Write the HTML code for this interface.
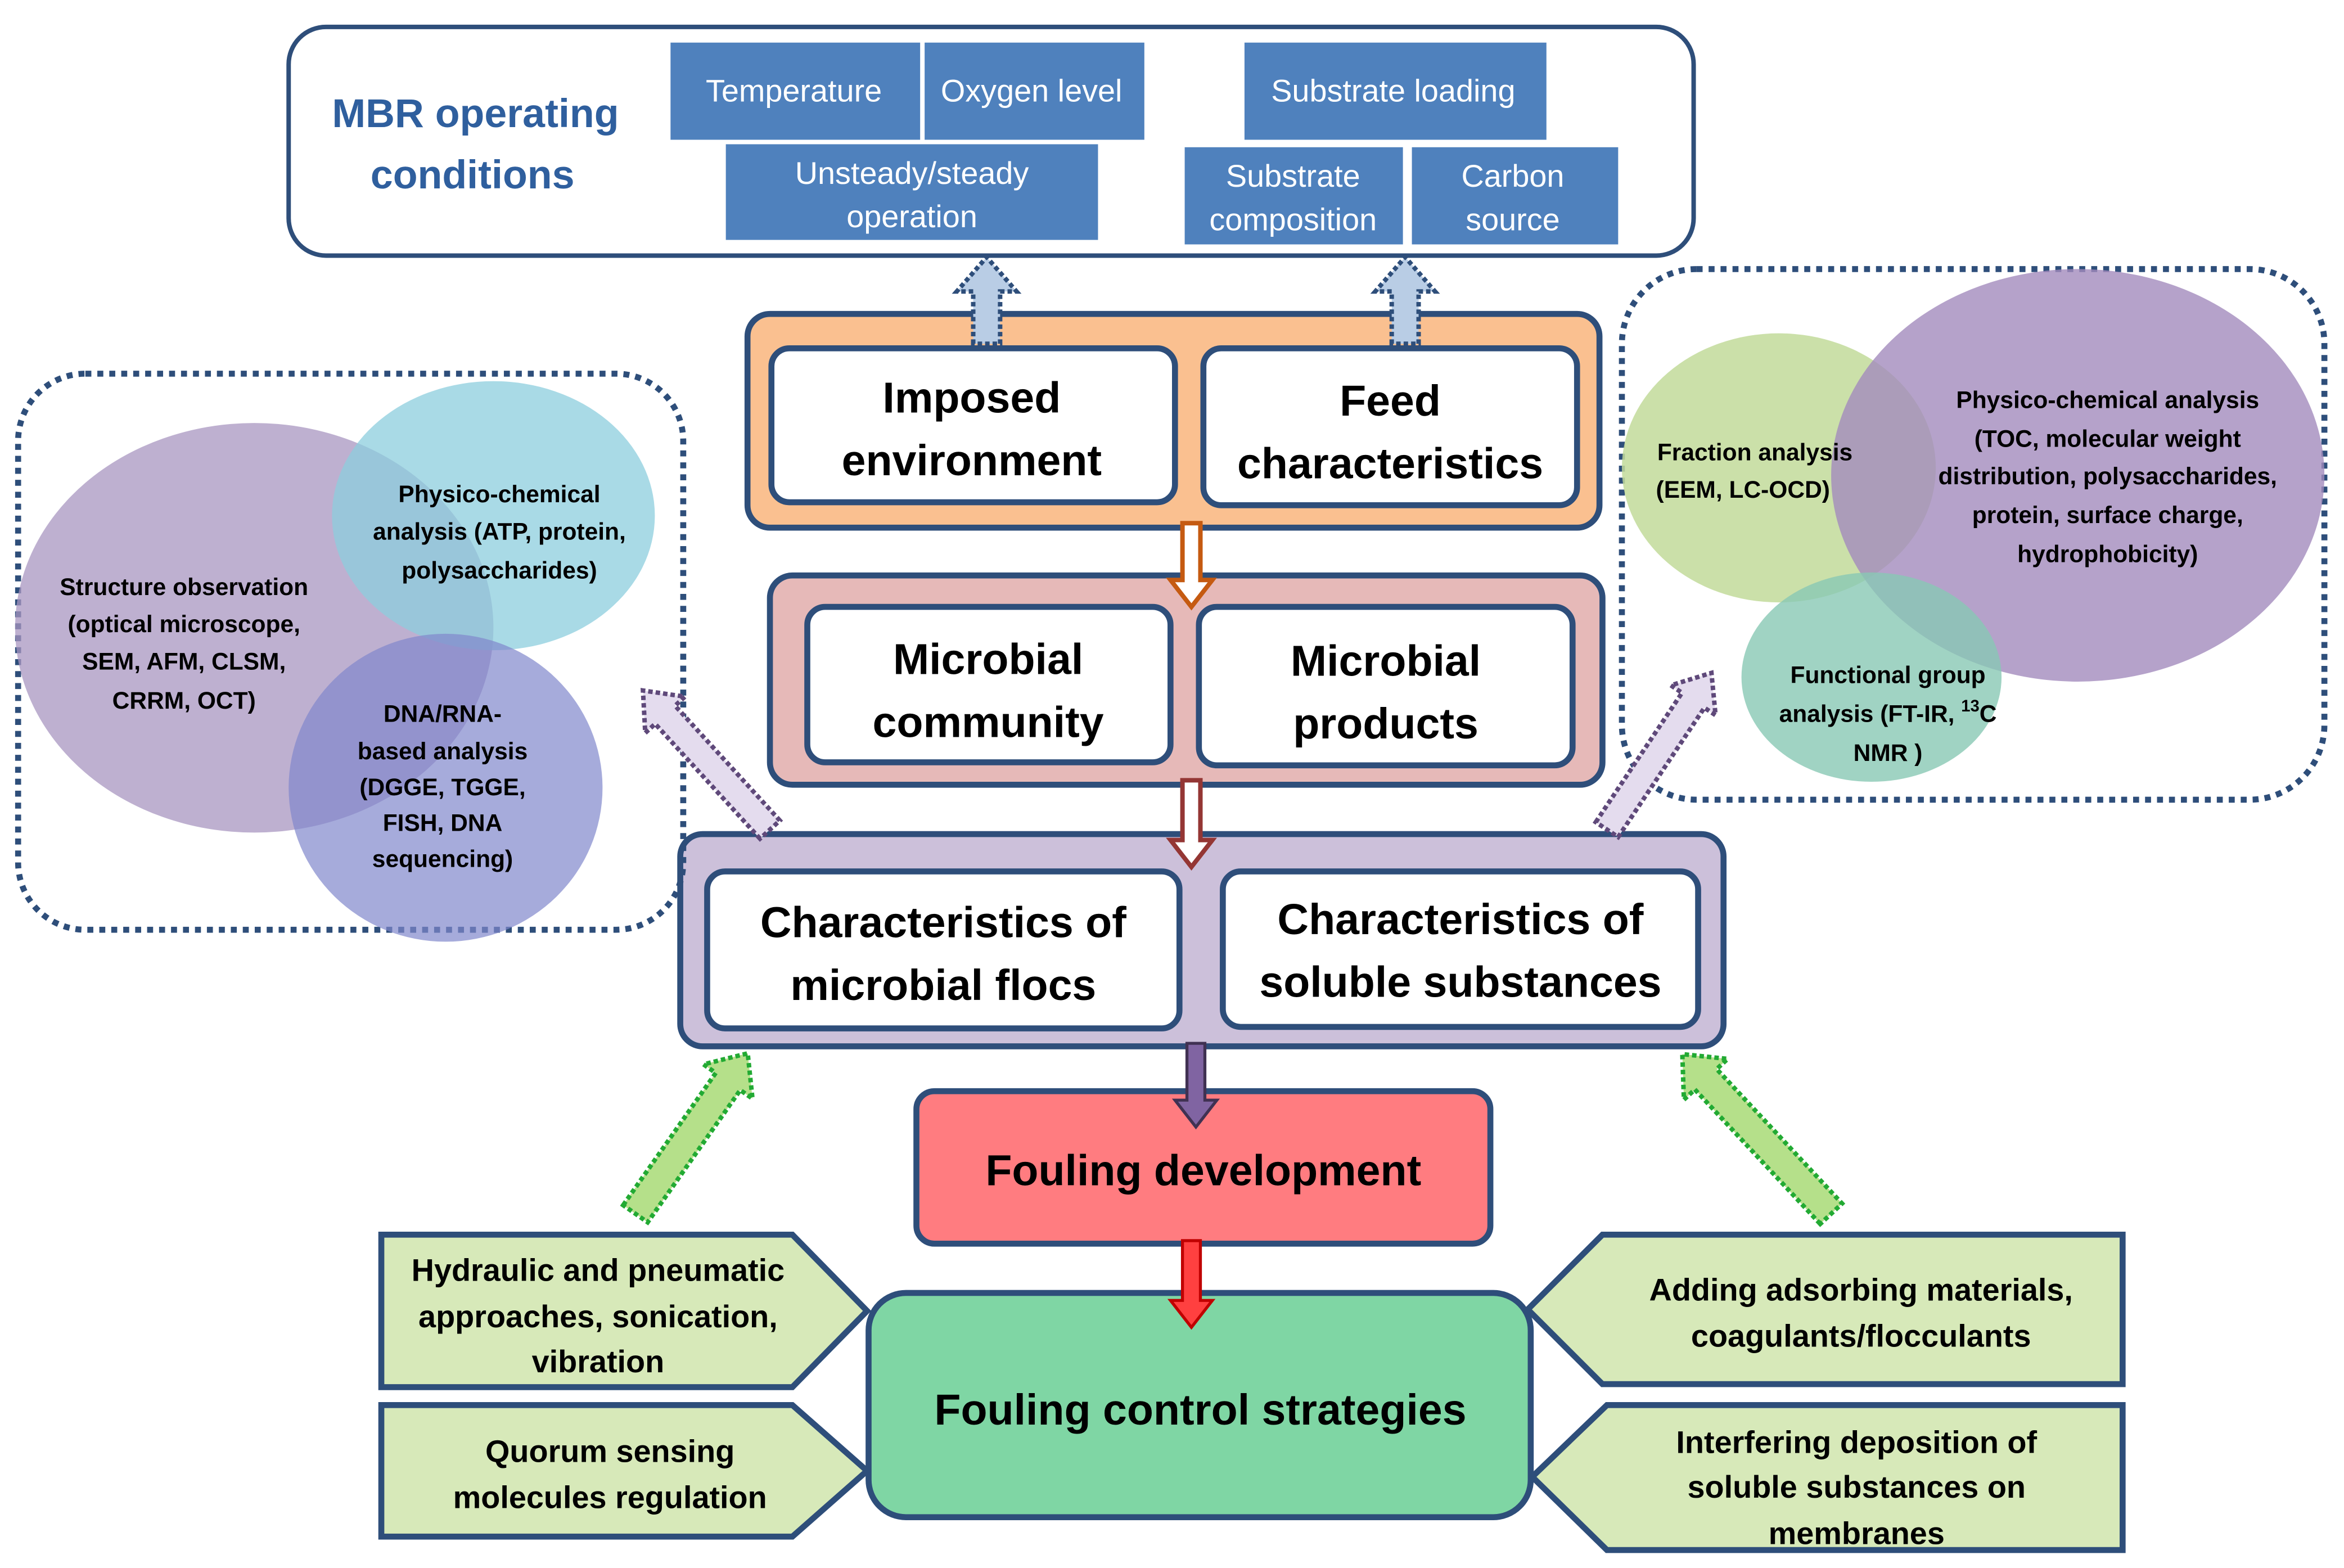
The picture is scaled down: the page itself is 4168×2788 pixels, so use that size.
<!DOCTYPE html>
<html><head><meta charset="utf-8"><style>
html,body{margin:0;padding:0;background:#fff}
svg{display:block}
text{font-family:"Liberation Sans",sans-serif;font-weight:bold}
</style></head><body>
<svg width="4168" height="2788" viewBox="0 0 1568 1049" xmlns="http://www.w3.org/2000/svg">
<rect width="1568" height="1049" fill="#fff"/>
<!-- Top box -->
<rect x="193" y="18" width="940" height="153" rx="25" fill="#fff" stroke="#2e4e7a" stroke-width="3"/>
<text x="318" y="85" font-size="27" fill="#2f5f9e" text-anchor="middle">MBR operating</text>
<text x="316" y="126" font-size="27" fill="#2f5f9e" text-anchor="middle">conditions</text>
<g fill="#4f81bd" stroke="#fff" stroke-width="1">
<rect x="448" y="28" width="168" height="66"/>
<rect x="618" y="28" width="148" height="66"/>
<rect x="485" y="96" width="250" height="65"/>
<rect x="832" y="28" width="203" height="66"/>
<rect x="792" y="98" width="147" height="66"/>
<rect x="944" y="98" width="139" height="66"/>
</g>
<g fill="#fff" font-size="21" text-anchor="middle">
<text x="531" y="68" style="font-weight:normal">Temperature</text>
<text x="690" y="68" style="font-weight:normal">Oxygen level</text>
<text x="610" y="123" style="font-weight:normal">Unsteady/steady</text>
<text x="610" y="152" style="font-weight:normal">operation</text>
<text x="932" y="68" style="font-weight:normal">Substrate loading</text>
<text x="865" y="125" style="font-weight:normal">Substrate</text>
<text x="865" y="154" style="font-weight:normal">composition</text>
<text x="1012" y="125" style="font-weight:normal">Carbon</text>
<text x="1012" y="154" style="font-weight:normal">source</text>
</g>
<!-- Orange box -->
<rect x="500" y="210" width="570" height="143" rx="15" fill="#fac090" stroke="#2e4e7a" stroke-width="4"/>
<rect x="516" y="233" width="270" height="103" rx="12" fill="#fff" stroke="#2e4e7a" stroke-width="4"/>
<rect x="805" y="233" width="250" height="105" rx="12" fill="#fff" stroke="#2e4e7a" stroke-width="4"/>
<g font-size="29" text-anchor="middle" fill="#000">
<text x="650" y="276">Imposed</text><text x="650" y="318">environment</text>
<text x="930" y="278">Feed</text><text x="930" y="320">characteristics</text>
</g>
<!-- Pink box -->
<rect x="515" y="385" width="557" height="140" rx="15" fill="#e6b9b8" stroke="#2e4e7a" stroke-width="4"/>
<rect x="540" y="406" width="243" height="104" rx="12" fill="#fff" stroke="#2e4e7a" stroke-width="4"/>
<rect x="802" y="406" width="250" height="106" rx="12" fill="#fff" stroke="#2e4e7a" stroke-width="4"/>
<g font-size="29" text-anchor="middle" fill="#000">
<text x="661" y="451">Microbial</text><text x="661" y="493">community</text>
<text x="927" y="452">Microbial</text><text x="927" y="494">products</text>
</g>
<!-- Lavender box -->
<rect x="455" y="558" width="698" height="142" rx="15" fill="#ccc0da" stroke="#2e4e7a" stroke-width="4"/>
<rect x="473" y="583" width="316" height="105" rx="12" fill="#fff" stroke="#2e4e7a" stroke-width="4"/>
<rect x="818" y="583" width="318" height="104" rx="12" fill="#fff" stroke="#2e4e7a" stroke-width="4"/>
<g font-size="29" text-anchor="middle" fill="#000">
<text x="631" y="627">Characteristics of</text><text x="631" y="669">microbial flocs</text>
<text x="977" y="625">Characteristics of</text><text x="977" y="667">soluble substances</text>
</g>
<!-- Fouling development -->
<rect x="613" y="730" width="384" height="102" rx="12" fill="#ff7c80" stroke="#2e4e7a" stroke-width="4"/>
<text x="805" y="793" font-size="29" text-anchor="middle">Fouling development</text>
<!-- Fouling control -->
<rect x="581" y="865" width="443" height="150" rx="25" fill="#7fd6a4" stroke="#2e4e7a" stroke-width="4"/>
<text x="803" y="953" font-size="29" text-anchor="middle">Fouling control strategies</text>
<!-- green pentagons -->
<g fill="#d7e9b9" stroke="#2e4e7a" stroke-width="4">
<polygon points="255,826 530,826 580,877 530,928 255,928"/>
<polygon points="255,940 530,940 580,984 530,1028 255,1028"/>
<polygon points="1420,826 1072,826 1022,876 1072,926 1420,926"/>
<polygon points="1420,940 1075,940 1025,988 1075,1037 1420,1037"/>
</g>
<g font-size="21" text-anchor="middle" fill="#000">
<text x="400" y="857">Hydraulic and pneumatic</text>
<text x="400" y="888">approaches, sonication,</text>
<text x="400" y="918">vibration</text>
<text x="408" y="978">Quorum sensing</text>
<text x="408" y="1009">molecules regulation</text>
<text x="1245" y="870">Adding adsorbing materials,</text>
<text x="1245" y="901">coagulants/flocculants</text>
<text x="1242" y="972">Interfering  deposition of</text>
<text x="1242" y="1002">soluble substances on</text>
<text x="1242" y="1033">membranes</text>
</g>
<!-- green dotted arrows -->
<g fill="#b5e08a" stroke="#22aa33" stroke-width="3" stroke-dasharray="3,2">
<g transform="translate(425,812) rotate(35)"><polygon points="-10,0 -10,-108 -20,-108 0,-131 20,-108 10,-108 10,0"/></g>
<g transform="translate(1225,812) rotate(-43)"><polygon points="-10,0 -10,-123 -20,-123 0,-146 20,-123 10,-123 10,0"/></g>
</g>
<!-- Left group -->
<rect x="12" y="250" width="445" height="372" rx="45" fill="none" stroke="#2e4e7a" stroke-width="4" stroke-dasharray="4,4"/>
<ellipse cx="170" cy="420" rx="160" ry="137" fill="#a896c0" fill-opacity="0.75"/>
<ellipse cx="330" cy="345" rx="108" ry="90" fill="#8ccede" fill-opacity="0.75"/>
<ellipse cx="298" cy="527" rx="105" ry="103" fill="#8088cc" fill-opacity="0.7"/>
<g font-size="16" text-anchor="middle" fill="#000">
<text x="334" y="336">Physico-chemical</text>
<text x="334" y="361">analysis  (ATP, protein,</text>
<text x="334" y="387">polysaccharides)</text>
<text x="123" y="398">Structure observation</text>
<text x="123" y="423">(optical microscope,</text>
<text x="123" y="448">SEM,  AFM,  CLSM,</text>
<text x="123" y="474">CRRM,  OCT)</text>
<text x="296" y="483">DNA/RNA-</text>
<text x="296" y="508">based analysis</text>
<text x="296" y="532">(DGGE,  TGGE,</text>
<text x="296" y="556">FISH, DNA</text>
<text x="296" y="580">sequencing)</text>
</g>
<!-- Right group -->
<rect x="1085" y="180" width="470" height="355" rx="50" fill="none" stroke="#2e4e7a" stroke-width="4" stroke-dasharray="4,4"/>
<ellipse cx="1190" cy="313" rx="105" ry="90" fill="#c2da9a" fill-opacity="0.85"/>
<ellipse cx="1390" cy="318" rx="165" ry="138" fill="#a38bbd" fill-opacity="0.8"/>
<ellipse cx="1252" cy="453" rx="87" ry="70" fill="#88c8b4" fill-opacity="0.8"/>
<g font-size="16" text-anchor="middle" fill="#000">
<text x="1174" y="308">Fraction analysis</text>
<text x="1166" y="333">(EEM,  LC-OCD)</text>
<text x="1410" y="273">Physico-chemical  analysis</text>
<text x="1410" y="299">(TOC, molecular weight</text>
<text x="1410" y="324">distribution, polysaccharides,</text>
<text x="1410" y="350">protein, surface charge,</text>
<text x="1410" y="376">hydrophobicity)</text>
<text x="1263" y="457">Functional group</text>
<text x="1263" y="483">analysis  (FT-IR, <tspan font-size="11" dy="-7">13</tspan><tspan dy="7">C</tspan></text>
<text x="1263" y="509">NMR )</text>
</g>
<!-- purple dotted arrows -->
<g fill="#e4dcee" stroke="#5f497a" stroke-width="3" stroke-dasharray="3,2">
<g transform="translate(515,555) rotate(-42.4)"><polygon points="-9,0 -9,-104 -18,-104 0,-126 18,-104 9,-104 9,0"/></g>
<g transform="translate(1075,555) rotate(33.7)"><polygon points="-9,0 -9,-104 -18,-104 0,-126 18,-104 9,-104 9,0"/></g>
</g>
<!-- dotted up arrows -->
<g fill="#b9cde5" stroke="#2e4e7a" stroke-width="3" stroke-dasharray="3,2">
<polygon points="651,230 651,195 640,195 660,172 680,195 669,195 669,230"/>
<polygon points="931,230 931,195 920,195 940,172 960,195 949,195 949,230"/>
</g>
<!-- vertical arrows on top -->
<polygon points="791,350 791,388 783,388 797,406 811,388 803,388 803,350" fill="#fff" stroke="#c55a11" stroke-width="3"/>
<polygon points="791,522 791,562 783,562 797,580 811,562 803,562 803,522" fill="#fff" stroke="#943634" stroke-width="3"/>
<polygon points="794,698 794,736 786,736 800,754 814,736 806,736 806,698" fill="#8064a2" stroke="#403152" stroke-width="2"/>
<polygon points="791,830 791,870 783,870 797,888 811,870 803,870 803,830" fill="#ff4040" stroke="#c00000" stroke-width="2"/>
</svg>
</body></html>
